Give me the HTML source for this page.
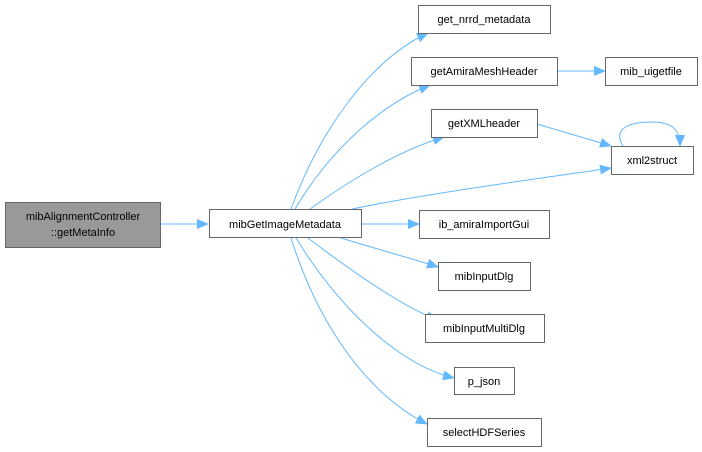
<!DOCTYPE html>
<html><head><style>
html,body{margin:0;padding:0;background:#fff;}
svg{display:block;}
text{font-family:"Liberation Sans",sans-serif;font-size:11px;fill:#000;}
</style></head><body>
<svg width="702" height="452" viewBox="0 0 702 452" xmlns="http://www.w3.org/2000/svg">
<defs>
<marker id="a" markerWidth="12" markerHeight="10" refX="11" refY="5" orient="auto" markerUnits="userSpaceOnUse">
<path d="M0,0 L12,5 L0,10 Z" fill="#63b8ff"/>
</marker>
</defs>
<g fill="none" stroke="#63b8ff" stroke-width="1" marker-end="url(#a)">
<path d="M160,224 L208,224"/>
<path d="M291,209 C320,130 370,60 428,33"/>
<path d="M295,209 C330,150 380,105 430,85"/>
<path d="M310,209 C350,180 400,150 444,137"/>
<path d="M352,209 C430,193 530,180 611,168"/>
<path d="M361,224 L419,224"/>
<path d="M341,238 C380,250 410,258 438,267"/>
<path d="M308,238 C350,270 400,305 437,320"/>
<path d="M296,238 C340,310 400,365 454,378"/>
<path d="M291,238 C320,330 370,395 427,424"/>
<path d="M557,71 L605,71"/>
<path d="M537,124 C560,131 585,138 611,146"/>
<path d="M623,146 C612,128 630,122 652,122 C670,122 680,128 680,146"/>
</g>
<g stroke-width="1">
<rect x="5.5" y="202.5" width="155" height="45" fill="#999" stroke="#666"/>
<rect x="209.5" y="209.5" width="152" height="28" fill="#fff" stroke="#666"/>
<rect x="418.5" y="5.5" width="132" height="28" fill="#fff" stroke="#666"/>
<rect x="411.5" y="57.5" width="146" height="28" fill="#fff" stroke="#666"/>
<rect x="605.5" y="57.5" width="92" height="28" fill="#fff" stroke="#666"/>
<rect x="431.5" y="109.5" width="106" height="28" fill="#fff" stroke="#666"/>
<rect x="611.5" y="146.5" width="82" height="28" fill="#fff" stroke="#666"/>
<rect x="419.5" y="210.5" width="130" height="28" fill="#fff" stroke="#666"/>
<rect x="438.5" y="262.5" width="92" height="28" fill="#fff" stroke="#666"/>
<rect x="425.5" y="314.5" width="119" height="28" fill="#fff" stroke="#666"/>
<rect x="454.5" y="367.5" width="60" height="27" fill="#fff" stroke="#666"/>
<rect x="427.5" y="418.5" width="114" height="28" fill="#fff" stroke="#666"/>
</g>
<g text-anchor="middle">
<text x="83" y="220">mibAlignmentController</text>
<text x="83" y="236">::getMetaInfo</text>
<text x="285" y="228">mibGetImageMetadata</text>
<text x="484" y="23">get_nrrd_metadata</text>
<text x="484" y="75">getAmiraMeshHeader</text>
<text x="651" y="75">mib_uigetfile</text>
<text x="484" y="127">getXMLheader</text>
<text x="652" y="164">xml2struct</text>
<text x="484" y="228">ib_amiraImportGui</text>
<text x="484" y="280">mibInputDlg</text>
<text x="484" y="332">mibInputMultiDlg</text>
<text x="484" y="385">p_json</text>
<text x="484" y="436">selectHDFSeries</text>
</g>
</svg>
</body></html>
